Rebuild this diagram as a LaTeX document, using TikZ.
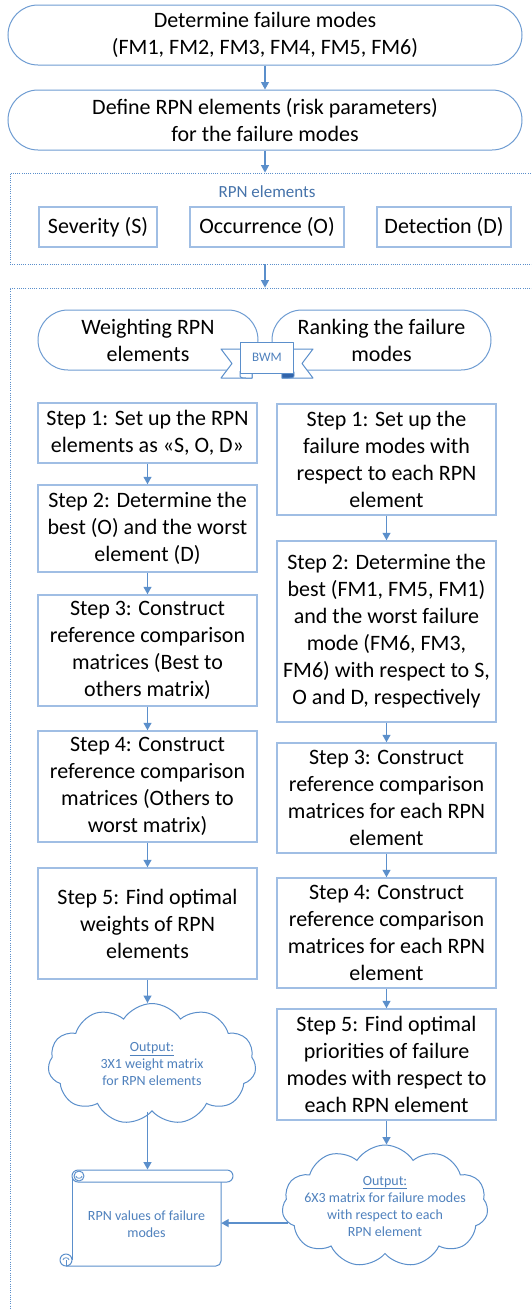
\documentclass[tikz,border=0pt]{standalone}
\usepackage{fontspec}
\setmainfont{Carlito}
\usetikzlibrary{arrows.meta,shapes.symbols}
\definecolor{termblue}{RGB}{110,156,210}
\definecolor{boxblue}{RGB}{160,190,228}
\definecolor{arrblue}{RGB}{91,143,203}
\definecolor{txtblue}{RGB}{79,129,189}
\definecolor{lblblue}{RGB}{70,115,170}
\definecolor{ribdark}{RGB}{50,100,170}
\begin{document}
\begin{tikzpicture}[x=1pt,y=-1pt,
 big/.style={font=\fontsize{22}{27}\selectfont, align=center, inner sep=0pt},
 term/.style={big, draw=termblue, line width=1pt, rounded corners=30pt, minimum height=60pt, fill=white},
 stepbox/.style={big, draw=boxblue, line width=1.5pt, minimum width=219pt},
 elbox/.style={big, draw=boxblue, line width=1.5pt, minimum height=40pt},
 grp/.style={draw=arrblue, line width=0.8pt, dash pattern=on 1pt off 1.2pt, inner sep=0pt},
 arr/.style={draw=arrblue, line width=1.2pt, -{Triangle[width=8pt,length=7.5pt]}},
 cloudn/.style={cloud, cloud puffs=11, cloud puff arc=115, cloud ignores aspect, draw=arrblue, line width=1pt, fill=white, inner sep=0pt},
 sml/.style={font=\fontsize{14}{17}\selectfont, text=txtblue, align=center, inner sep=0pt},
 rib/.style={draw=arrblue, line width=1pt, fill=white, line join=round}
]
\useasboundingbox (0,0) rectangle (531,1309);
\clip (0,0) rectangle (531,1309);

% top terminals
\node[term, minimum width=514pt] (t1) at (265,35) {Determine failure modes\\(FM1, FM2, FM3, FM4, FM5, FM6)};
\node[term, minimum width=514pt] (t2) at (265,120) {Define RPN elements (risk parameters)\\for the failure modes};

% group 1
\node[grp, minimum width=535pt, minimum height=91pt] (grp1) at (277.5,218.5) {};
\node[font=\fontsize{17}{20}\selectfont, text=lblblue, inner sep=0pt] (rpnlbl) at (267,192) {RPN elements};
\node[elbox, minimum width=118pt] (sev) at (98,227) {Severity (S)};
\node[elbox, minimum width=154pt] (occ) at (267,227) {Occurrence (O)};
\node[elbox, minimum width=134pt] (det) at (444,227) {Detection (D)};

% group 2
\node[grp, minimum width=535pt, minimum height=1032pt] (grp2) at (277.5,804) {};

\draw[arr] (t1.south) -- (t2.north);
\draw[arr] (t2.south) -- (t2.south |- grp1.north);
\draw[arr] (grp1.south -| t2.south) -- (grp2.north -| t2.south);

% weighting / ranking
\node[term, minimum width=220pt] (wt) at (148,340) {Weighting RPN\\elements};
\node[term, minimum width=219pt] (rk) at (381.5,340) {Ranking the failure\\modes};

% BWM ribbon
\draw[rib] (248,349) -- (221,349) -- (232,363.5) -- (221,378) -- (252,378) -- (252,372);
\draw[rib] (286,349) -- (313,349) -- (302,363.5) -- (313,378) -- (282,378) -- (282,372);
\draw[rib] (240,371) -- (240,376) .. controls (240,378) and (244,378) .. (246,378) -- (252,378) -- (252,372);
\filldraw[draw=arrblue, fill=ribdark, line width=0.8pt] (282,372) -- (294,372) -- (294,376) .. controls (294,378) and (290,378) .. (288,378) -- (282,378) -- cycle;
\node[rib, minimum width=53pt, minimum height=31pt, inner sep=0pt, font=\fontsize{13}{15}\selectfont, text=txtblue] (bwm) at (267,357.5) {BWM};

% left column
\node[stepbox, minimum height=60pt] (L1) at (147.5,433) {Step 1: Set up the RPN\\elements as «S, O, D»};
\node[stepbox, minimum height=87pt] (L2) at (147.5,528.5) {Step 2: Determine the\\best (O) and the worst\\element (D)};
\node[stepbox, minimum height=111pt] (L3) at (147.5,650.5) {Step 3: Construct\\reference comparison\\matrices (Best to\\others matrix)};
\node[stepbox, minimum height=111pt] (L4) at (147.5,786.5) {Step 4: Construct\\reference comparison\\matrices (Others to\\worst matrix)};
\node[stepbox, minimum height=111pt] (L5) at (147.5,923.5) {Step 5: Find optimal\\weights of RPN\\elements};

% right column
\node[stepbox, minimum height=111pt] (R1) at (386.5,459.5) {Step 1: Set up the\\failure modes with\\respect to each RPN\\element};
\node[stepbox, minimum height=181pt] (R2) at (386.5,631.5) {Step 2: Determine the\\best (FM1, FM5, FM1)\\and the worst failure\\mode (FM6, FM3,\\FM6) with respect to S,\\O and D, respectively};
\node[stepbox, minimum height=110pt] (R3) at (386.5,798) {Step 3: Construct\\reference comparison\\matrices for each RPN\\element};
\node[stepbox, minimum height=110pt] (R4) at (386.5,933) {Step 4: Construct\\reference comparison\\matrices for each RPN\\element};
\node[stepbox, minimum height=111pt] (R5) at (386.5,1064.5) {Step 5: Find optimal\\priorities of failure\\modes with respect to\\each RPN element};

\draw[arr] (L1.south) -- (L2.north);
\draw[arr] (L2.south) -- (L3.north);
\draw[arr] (L3.south) -- (L4.north);
\draw[arr] (L4.south) -- (L5.north);
\draw[arr] (R1.south) -- (R2.north);
\draw[arr] (R2.south) -- (R3.north);
\draw[arr] (R3.south) -- (R4.north);
\draw[arr] (R4.south) -- (R5.north);

% clouds
\node[cloudn, minimum width=208pt, minimum height=121pt] (cl1) at (152,1064) {};
\node[sml] (cl1t) at (152,1064) {\underline{Output:}\\3X1 weight matrix\\for RPN elements};
\node[cloudn, minimum width=206pt, minimum height=122pt] (cl2) at (385,1206) {};
\node[sml] (cl2t) at (385,1206) {\underline{Output:}\\6X3 matrix for failure modes\\with respect to each\\RPN element};

% scroll
\fill[white] (66,1176) rectangle (221,1266);
\draw[arrblue, line width=1pt, rounded corners=5pt] (221,1178) -- (221,1266) -- (66,1266);
\draw[arrblue, line width=1pt] (72,1178) -- (72,1260);
\draw[rib] (66,1260) circle[radius=6pt];
\draw[arrblue, line width=0.8pt] (66,1260) -- (66,1266);
\draw[arrblue, line width=0.8pt] (63,1260) .. controls (63,1257) and (69,1257) .. (69,1260);
\node[rib, rounded corners=6pt, minimum width=161pt, minimum height=12pt, inner sep=0pt] (roll) at (152.5,1176) {};
\draw[rib] (79,1176) circle[radius=5pt];
\draw[arrblue, line width=0.8pt] (76,1176) .. controls (76,1179) and (82,1179) .. (82,1176);
\node[sml, minimum width=149pt, minimum height=84pt] (scroll) at (146.5,1224) {RPN values of failure\\modes};

\draw[arr] (L5.south) -- (L5.south |- cl1.north);
\draw[arr] (cl1.south -| L5.south) -- (L5.south |- roll.north);
\draw[arr] (R5.south) -- (R5.south |- cl2.north);
\draw[arr] (cl2.190) -- (cl2.190 -| scroll.east);
\end{tikzpicture}
\end{document}
